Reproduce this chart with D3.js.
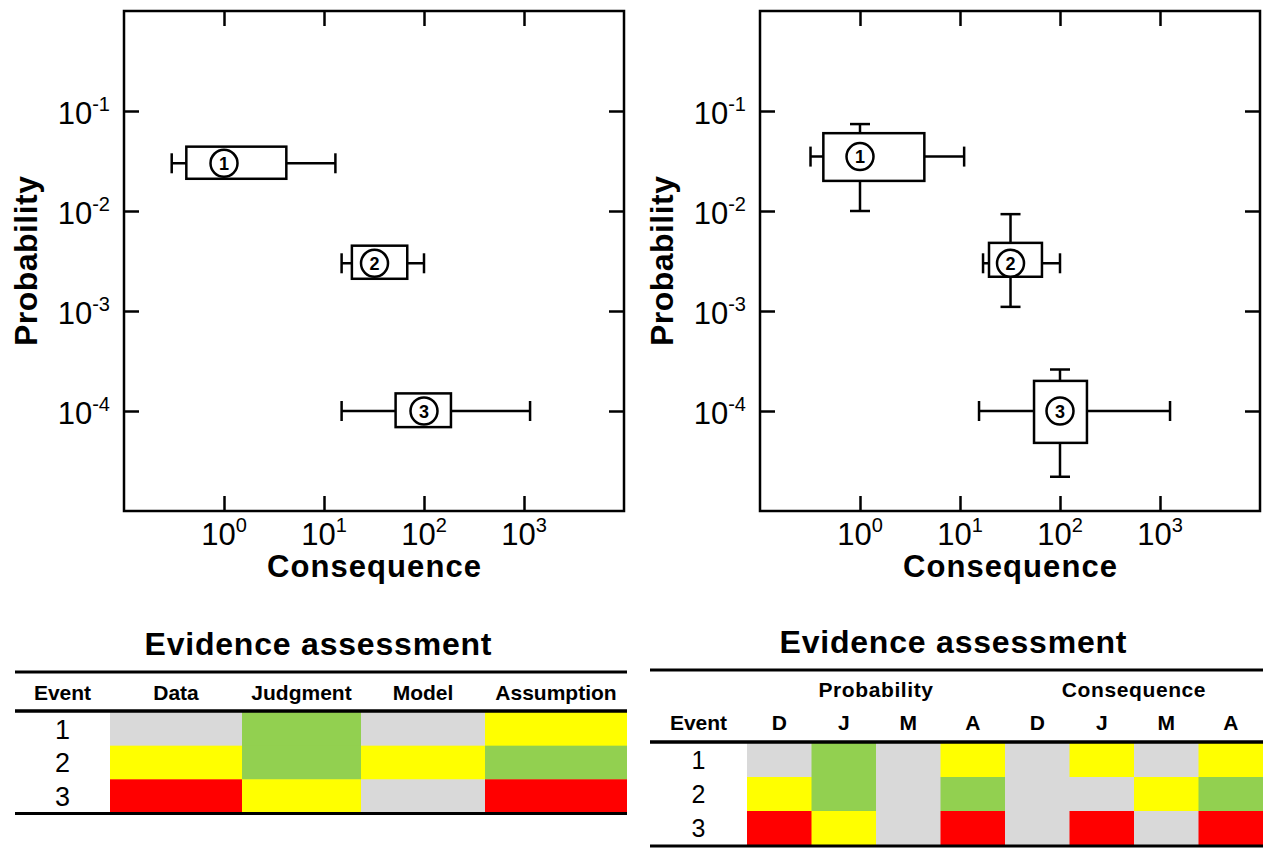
<!DOCTYPE html>
<html>
<head>
<meta charset="utf-8">
<script src="https://cdn.jsdelivr.net/npm/d3@7"></script>
<style>
  body { margin: 0; background: #fff; }
  svg { display: block; }
  text { font-family: "Liberation Sans", Arial, sans-serif; fill: #000; }
</style>
</head>
<body>
<svg id="chart" width="1263" height="848"></svg>
<script>
// ---- data ----
const X_TICKS = [1, 10, 100, 1000];
const Y_TICKS = [1e-1, 1e-2, 1e-3, 1e-4];
const EVENTS = [1, 2, 3];

// consequence: [whiskerLo, boxLo, median, boxHi, whiskerHi]
const leftConsequence = [
  [0.30, 0.42, 1, 4.2, 13],
  [15, 19, 32, 68, 100],
  [15, 52, 100, 186, 1150]
];
// probability: [whiskerLo, boxLo, median, boxHi, whiskerHi] (null = no whisker)
const leftProbability = [
  [null, 0.021, 0.03, 0.044, null],
  [null, 0.0021, 0.003, 0.0045, null],
  [null, 6.9e-5, 1e-4, 1.5e-4, null]
];

const rightConsequence = [
  [0.32, 0.43, 1, 4.4, 11],
  [17, 19.5, 32, 66, 100],
  [15.5, 55, 100, 186, 1260]
];
const rightProbability = [
  [0.01, 0.02, 0.035, 0.06, 0.074],
  [0.0011, 0.0022, 0.003, 0.0048, 0.0093],
  [2.2e-5, 4.8e-5, 1e-4, 2.0e-4, 2.6e-4]
];

const TABLE_TITLE = "Evidence assessment";
const LEFT_COLUMNS = ["Data", "Judgment", "Model", "Assumption"];
const leftRatings = [
  ["grey", "green", "grey", "yellow"],
  ["yellow", "green", "yellow", "green"],
  ["red", "yellow", "grey", "red"]
];

const RIGHT_GROUPS = ["Probability", "Consequence"];
const RIGHT_COLUMNS = ["D", "J", "M", "A", "D", "J", "M", "A"];
const rightRatings = [
  ["grey", "green", "grey", "yellow", "grey", "yellow", "grey", "yellow"],
  ["yellow", "green", "grey", "green", "grey", "grey", "yellow", "green"],
  ["red", "yellow", "grey", "red", "grey", "red", "grey", "red"]
];

const RATING_COLOR = { grey: "#d9d9d9", green: "#92d050", yellow: "#ffff00", red: "#ff0000" };

// ---- layout ----
const PLOT = { width: 500, height: 500 };
const LINE = 2.5;

const svg = d3.select("#chart");

const drawChart = (left, consequence, probability) => {
  const g = svg.append("g").attr("transform", `translate(${left},11)`);

  const x = d3.scaleLog().domain([0.1, 1e4]).range([0, PLOT.width]);
  const y = d3.scaleLog().domain([1e-5, 1]).range([PLOT.height, 0]);

  const axes = [
    [d3.axisBottom(x), `translate(0,${PLOT.height})`, X_TICKS],
    [d3.axisTop(x), "translate(0,0)", X_TICKS],
    [d3.axisLeft(y), "translate(0,0)", Y_TICKS],
    [d3.axisRight(y), `translate(${PLOT.width},0)`, Y_TICKS]
  ];
  axes.forEach(([axis, tr, values]) => {
    const a = g.append("g")
      .attr("transform", tr)
      .call(axis.tickValues(values).tickSizeInner(-15).tickSizeOuter(0).tickFormat(""));
    a.select(".domain").remove();
    a.selectAll("line").attr("stroke", "#000").attr("stroke-width", LINE);
  });

  g.append("rect")
    .attr("width", PLOT.width)
    .attr("height", PLOT.height)
    .attr("fill", "none")
    .attr("stroke", "#000")
    .attr("stroke-width", LINE);

  // tick labels with superscript exponents
  const xl = g.selectAll(".xlab").data(X_TICKS).join("text")
    .attr("class", "xlab")
    .attr("x", d => x(d))
    .attr("y", PLOT.height + 34)
    .attr("text-anchor", "middle")
    .attr("font-size", 31);
  xl.append("tspan").text("10");
  xl.append("tspan").attr("font-size", 20).attr("dy", -13).text(d => Math.round(Math.log10(d)));

  const yl = g.selectAll(".ylab").data(Y_TICKS).join("text")
    .attr("class", "ylab")
    .attr("x", -14)
    .attr("y", d => y(d) + 13)
    .attr("text-anchor", "end")
    .attr("font-size", 31);
  yl.append("tspan").text("10");
  yl.append("tspan").attr("font-size", 20).attr("dy", -13).text(d => Math.round(Math.log10(d)));

  g.append("text")
    .attr("x", PLOT.width / 2)
    .attr("y", 566)
    .attr("text-anchor", "middle")
    .attr("font-size", 31)
    .attr("font-weight", "bold")
    .attr("textLength", 214)
    .text("Consequence");

  g.append("text")
    .attr("transform", `translate(-87,${PLOT.height / 2}) rotate(-90)`)
    .attr("text-anchor", "middle")
    .attr("font-size", 32)
    .attr("font-weight", "bold")
    .attr("textLength", 170)
    .text("Probability");

  // box plots
  const cap = 10;
  EVENTS.forEach((ev, i) => {
    const c = consequence[i];
    const p = probability[i];
    const cy = y(p[2]);
    const cx = x(c[2]);
    const mark = g.append("g").attr("stroke", "#000").attr("stroke-width", LINE);

    mark.append("line").attr("x1", x(c[0])).attr("x2", x(c[4])).attr("y1", cy).attr("y2", cy);
    [c[0], c[4]].forEach(v =>
      mark.append("line").attr("x1", x(v)).attr("x2", x(v)).attr("y1", cy - cap).attr("y2", cy + cap));

    if (p[0] !== null) {
      mark.append("line").attr("x1", cx).attr("x2", cx).attr("y1", y(p[0])).attr("y2", y(p[4]));
      [p[0], p[4]].forEach(v =>
        mark.append("line").attr("x1", cx - cap).attr("x2", cx + cap).attr("y1", y(v)).attr("y2", y(v)));
    }

    mark.append("rect")
      .attr("x", x(c[1]))
      .attr("y", y(p[3]))
      .attr("width", x(c[3]) - x(c[1]))
      .attr("height", y(p[1]) - y(p[3]))
      .attr("fill", "#fff");

    mark.append("circle").attr("cx", cx).attr("cy", cy).attr("r", 13.5).attr("fill", "#fff");

    g.append("text")
      .attr("x", cx)
      .attr("y", cy + 6.5)
      .attr("text-anchor", "middle")
      .attr("font-size", 18)
      .attr("font-weight", "bold")
      .attr("fill", "#222")
      .text(ev);
  });
};

drawChart(124, leftConsequence, leftProbability);
drawChart(760, rightConsequence, rightProbability);

// ---- tables ----
const rule = (x1, x2, yy, w) =>
  svg.append("line").attr("x1", x1).attr("x2", x2).attr("y1", yy).attr("y2", yy)
    .attr("stroke", "#000").attr("stroke-width", w);

const headerText = (xx, yy, label) =>
  svg.append("text")
    .attr("x", xx).attr("y", yy)
    .attr("text-anchor", "middle")
    .attr("font-size", 21)
    .attr("font-weight", "bold")
    .attr("fill", "#111")
    .text(label);

const rowNumbers = (xx, rows, size) =>
  svg.selectAll(null).data(EVENTS).join("text")
    .attr("x", xx)
    .attr("y", d => rows(d) + rows.bandwidth() / 2 + size * 0.36)
    .attr("text-anchor", "middle")
    .attr("font-size", size)
    .attr("font-family", "'Liberation Sans Narrow', 'Arial Narrow', sans-serif")
    .attr("fill", "#333")
    .text(d => d);

// left table
{
  const edges = [15, 110, 242, 361, 485, 627];
  const rows = d3.scaleBand().domain(EVENTS).range([712, 813]);

  svg.append("text")
    .attr("x", 318).attr("y", 655)
    .attr("text-anchor", "middle")
    .attr("font-size", 32)
    .attr("font-weight", "bold")
    .attr("textLength", 347)
    .text(TABLE_TITLE);

  leftRatings.forEach((row, r) => row.forEach((rating, c) => {
    svg.append("rect")
      .attr("x", edges[c + 1]).attr("y", rows(EVENTS[r]))
      .attr("width", edges[c + 2] - edges[c + 1]).attr("height", rows.bandwidth() + 0.5)
      .attr("fill", RATING_COLOR[rating]);
  }));

  headerText((edges[0] + edges[1]) / 2, 700, "Event");
  LEFT_COLUMNS.forEach((label, c) => headerText((edges[c + 1] + edges[c + 2]) / 2, 700, label));
  rowNumbers((edges[0] + edges[1]) / 2, rows, 27);

  rule(15, 627, 672, 3);
  rule(15, 627, 711, 3.5);
  rule(15, 627, 813.5, 3);
}

// right table
{
  const cols = d3.scaleBand().domain(d3.range(RIGHT_COLUMNS.length)).range([747, 1263]);
  const rows = d3.scaleBand().domain(EVENTS).range([743, 845]);
  const eventX = (650 + 747) / 2;

  svg.append("text")
    .attr("x", 953).attr("y", 653)
    .attr("text-anchor", "middle")
    .attr("font-size", 32)
    .attr("font-weight", "bold")
    .attr("textLength", 347)
    .text(TABLE_TITLE);

  rightRatings.forEach((row, r) => row.forEach((rating, c) => {
    svg.append("rect")
      .attr("x", cols(c)).attr("y", rows(EVENTS[r]))
      .attr("width", cols.bandwidth() + 0.5).attr("height", rows.bandwidth() + 0.5)
      .attr("fill", RATING_COLOR[rating]);
  }));

  const half = RIGHT_COLUMNS.length / 2;
  RIGHT_GROUPS.forEach((label, gi) => {
    const x0 = cols(gi * half);
    const x1 = cols(gi * half + half - 1) + cols.bandwidth();
    headerText((x0 + x1) / 2, 697, label).attr("letter-spacing", 0.6);
  });
  headerText(eventX, 730, "Event");
  RIGHT_COLUMNS.forEach((label, c) => headerText(cols(c) + cols.bandwidth() / 2, 730, label));
  rowNumbers(eventX, rows, 25);

  rule(650, 1263, 670, 3);
  rule(650, 1263, 742, 3.5);
  rule(650, 1263, 846, 3);
}
</script>
</body>
</html>
